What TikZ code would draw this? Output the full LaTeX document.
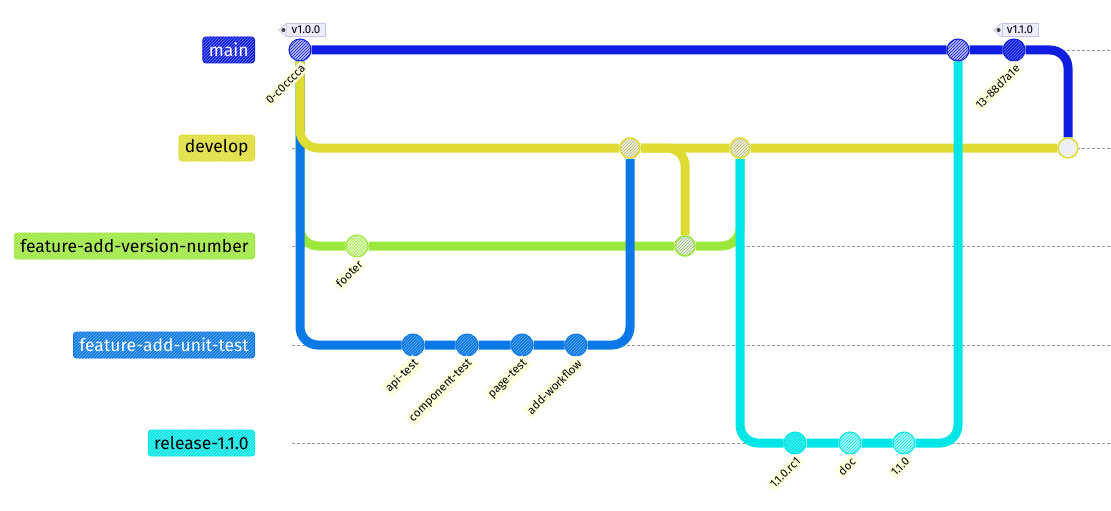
\documentclass[tikz,border=0pt]{standalone}
\usepackage{fontspec}
\setmainfont{Fira Sans}
\usetikzlibrary{patterns, backgrounds, calc}
\definecolor{mainc}{HTML}{0F1EE1}
\definecolor{devc}{HTML}{DEDC32}
\definecolor{featc}{HTML}{9BE83A}
\definecolor{unitc}{HTML}{0A78E6}
\definecolor{relc}{HTML}{00E6E6}
\definecolor{mergefill}{HTML}{EEEEF6}
\definecolor{lblbg}{HTML}{FFFFDE}
\definecolor{tagfill}{HTML}{ECECFA}
\definecolor{tagdraw}{HTML}{C4C4E4}
\tikzset{
  lane/.style={gray!85, dash pattern=on 3pt off 2pt, line width=0.8pt},
  branch/.style={draw=#1, line width=9pt, rounded corners=18pt},
  branchlbl/.style={rectangle, rounded corners=3pt, draw=#1, line width=0.8pt, preaction={fill=#1}, pattern=north east lines, pattern color=white!45!#1, anchor=east, font=\fontsize{17.5}{20}\selectfont, inner xsep=6pt, minimum height=26pt},
  commit/.style={circle, minimum size=22pt, inner sep=0pt, draw=#1, line width=1pt, preaction={fill=#1}, pattern=north east lines, pattern color=white!40!#1},
  hatchcommit/.style={circle, minimum size=22pt, inner sep=0pt, draw=#1, line width=1pt, preaction={fill=white!70!#1}, pattern=north east lines, pattern color=#1},
  mergecommit/.style={circle, minimum size=20pt, inner sep=0pt, draw=#1, line width=1.5pt, preaction={fill=mergefill}, pattern=north east lines, pattern color=#1!60!gray},
  clabel/.style={rotate=45, anchor=east, fill=lblbg, inner sep=2pt, font=\fontsize{11.5}{13}\selectfont},
  tag/.style={rectangle, fill=tagfill, draw=tagdraw, line width=0.6pt, inner xsep=5pt, inner ysep=2.5pt, font=\fontsize{11.5}{13}\selectfont}
}

\begin{document}
\begin{tikzpicture}[x=1pt, y=-1pt]
    \useasboundingbox (0,0) rectangle (1111,511);

    % Etiquetas de las ramas
    \node[branchlbl=mainc, text=white] (lblmain) at (255,50) {main};
    \node[branchlbl=devc] (lbldev) at (255,148) {develop};
    \node[branchlbl=featc] (lblfeat) at (255,246) {feature-add-version-number};
    \node[branchlbl=unitc, text=white] (lblunit) at (255,345) {feature-add-unit-test};
    \node[branchlbl=relc] (lblrel) at (255,443) {release-1.1.0};

    % Commits en main
    \node[hatchcommit=mainc] (c0) at (300,50) {};
    \node[hatchcommit=mainc] (mrel) at (958,50) {};
    \node[commit=mainc] (c13) at (1014,50) {};

    % Commits en develop (merges)
    \node[mergecommit=devc] (dm1) at (630,148) {};
    \node[mergecommit=devc] (dm3) at (740,148) {};
    \node[mergecommit=devc, pattern color=mergefill] (dmain) at (1068,148) {};

    % Commits en feature-add-version-number
    \node[hatchcommit=featc] (footer) at (357,246) {};
    \node[mergecommit=featc] (fm) at (685,246) {};

    % Commits en feature-add-unit-test
    \node[commit=unitc] (api) at (413,345) {};
    \node[commit=unitc] (comp) at (467,345) {};
    \node[commit=unitc] (page) at (522,345) {};
    \node[commit=unitc] (wf) at (576,345) {};

    % Commits en release-1.1.0
    \node[commit=relc] (rc1) at (795,443) {};
    \node[hatchcommit=relc] (doc) at (850,443) {};
    \node[hatchcommit=relc] (r110) at (904,443) {};

    % Nombres de los commits
    \foreach \c/\txt in {c0/0-c0cccca, c13/13-88d7a1e, footer/footer, api/api-test,
        comp/component-test, page/page-test, wf/add-workflow, rc1/1.1.0.rc1, doc/doc, r110/1.1.0} {
        \node[clabel] (l\c) at ($(\c)+(5,15)$) {\txt};
    }

    % Tags
    \foreach \t/\c/\txt in {tag1/c0/v1.0.0, tag2/c13/v1.1.0} {
        \node[tag] (\t) at ($(\c)+(6,-20)$) {\txt};
        \filldraw[fill=tagfill, draw=tagdraw, line width=0.6pt]
            (\t.north west) -- ($(\t.west)+(-8,0)$) -- (\t.south west);
        \fill[black!75] ($(\t.west)+(-3,0)$) circle[radius=2];
    }

    \begin{scope}[on background layer]
        % Lineas de cada rama
        \foreach \y in {50,148,246,345,443} {
            \coordinate (ls\y) at (292,\y);
            \coordinate (le\y) at (1111,\y);
            \draw[lane] (ls\y) -- (le\y);
        }

        % Ramas
        \draw[branch=featc] (c0) |- (footer) -- (fm) -| (dm3);
        \draw[branch=unitc] (c0) |- (api) -- (comp) -- (page) -- (wf) -| (dm1);
        \draw[branch=devc] (c0) |- (dm1) -- (dm3) -- (dmain);
        \draw[branch=devc] (dm1) -| (fm);
        \draw[branch=relc] (dm3) |- (rc1) -- (doc) -- (r110) -| (mrel);
        \draw[branch=mainc] (c0) -- (mrel) -- (c13) -| (dmain);
    \end{scope}

\end{tikzpicture}
\end{document}
